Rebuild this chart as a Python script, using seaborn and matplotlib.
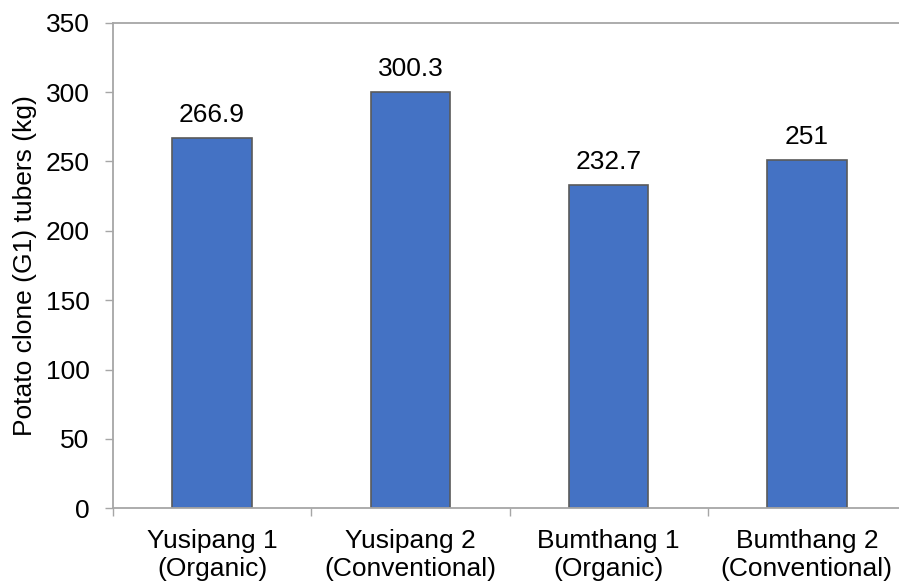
import matplotlib
matplotlib.use("Agg")
import matplotlib.pyplot as plt
import seaborn as sns
import pandas as pd
from matplotlib.ticker import FixedLocator

categories = ["Yusipang 1\n(Organic)", "Yusipang 2\n(Conventional)",
              "Bumthang 1\n(Organic)", "Bumthang 2\n(Conventional)"]
values = [266.9, 300.3, 232.7, 251]
value_labels = ["266.9", "300.3", "232.7", "251"]
y_ticks = [0, 50, 100, 150, 200, 250, 300, 350]
y_label = "Potato clone (G1) tubers (kg)"

sns.set_style("white")
plt.rcParams["font.family"] = ["Liberation Sans", "DejaVu Sans"]

FS = 19

df = pd.DataFrame({"site": categories, "yield": values})

fig = plt.figure(figsize=(8.99, 5.84), dpi=100)
ax = fig.add_axes([113 / 899, 75.7 / 584, 793 / 899, 485.6 / 584])

sns.barplot(data=df, x="site", y="yield", color="#4472C4", saturation=1,
            edgecolor="#5A5A5A", linewidth=1.2, width=0.4, ax=ax)

for i, (v, lab) in enumerate(zip(values, value_labels)):
    ax.annotate(lab, (i, v), xytext=(0, 8), textcoords="offset points",
                ha="center", va="bottom", fontsize=FS, color="black")

ax.set_xlim(-0.5, 3.5)
ax.set_ylim(0, 350)
ax.set_yticks(y_ticks)
ax.set_xlabel("")
ax.set_ylabel(y_label, fontsize=FS, color="black", labelpad=6)

spine_color = "#A6A6A6"
for side in ["left", "bottom", "top"]:
    ax.spines[side].set_visible(True)
    ax.spines[side].set_color(spine_color)
    ax.spines[side].set_linewidth(1.3)
ax.spines["right"].set_visible(False)

ax.tick_params(axis="y", which="major", direction="out", length=6, width=1,
               color=spine_color, labelsize=FS, labelcolor="black", pad=11, left=True)
ax.tick_params(axis="x", which="major", length=0, labelsize=FS,
               labelcolor="black", pad=15)
ax.xaxis.set_minor_locator(FixedLocator([-0.5, 0.5, 1.5, 2.5, 3.5]))
ax.tick_params(axis="x", which="minor", direction="out", length=6, width=1,
               color=spine_color, bottom=True)
for t in ax.get_xticklabels():
    t.set_linespacing(1.2)

fig.savefig("out.png", dpi=100)
